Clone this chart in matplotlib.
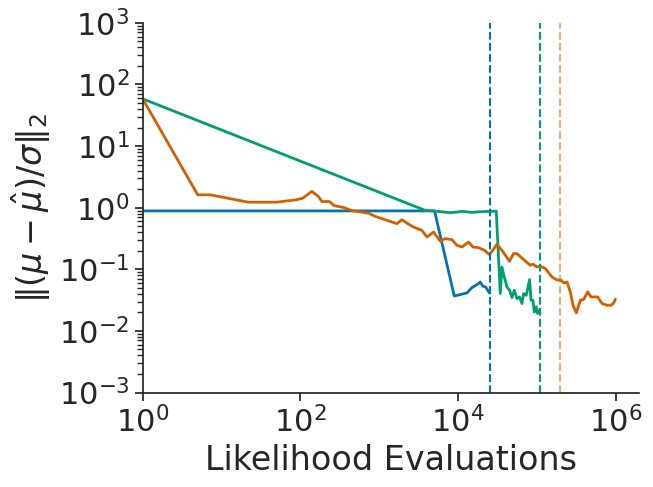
import matplotlib
matplotlib.use("Agg")
import matplotlib.pyplot as plt
import seaborn as sns

# blue run
blue_x = [1, 5046, 8980, 13000, 15060, 18270, 19190, 20760, 22400, 25180]
blue_y = [0.887, 0.887, 0.0369, 0.0413, 0.0505, 0.0586, 0.0622, 0.053, 0.0517, 0.0413]

# green run
green_x = [1, 3845, 4898, 7980, 11570, 15060, 19190, 30640, 34430, 36200, 38730,
           41900, 45200, 48500, 51880, 56100, 60550, 65000, 68100, 73650, 81100,
           84500, 89600, 93100, 98700, 102500, 108700]
green_y = [58.5, 0.904, 0.887, 0.830, 0.871, 0.839, 0.861, 0.881, 0.0404, 0.109, 0.075,
           0.0517, 0.0457, 0.0348, 0.0457, 0.0335, 0.0356, 0.0278, 0.0404, 0.0379, 0.068,
           0.0315, 0.0315, 0.0203, 0.0245, 0.0191, 0.0217]

# orange run
orange_x = [1, 4.99, 7.16, 21.9, 50.3, 90.3, 107.6, 140, 170, 187.5, 234, 269, 353, 451,
            732, 891, 1381, 1680, 1945, 2250, 2730, 3490, 4040, 4900, 5960, 6900, 8390,
            9710, 11240, 13640, 15500, 18270, 21780, 25180, 31260, 36200, 41900, 45000,
            50800, 56100, 68100, 82800, 89600, 100700, 112000, 128400, 156300, 177200,
            203200, 221000, 242200, 266700, 288600, 317800, 357200, 393500, 442300,
            488800, 592900, 674500, 780400, 877000, 946000, 994800]
orange_y = [58.5, 1.62, 1.62, 1.23, 1.23, 1.35, 1.43, 1.84, 1.52, 1.26, 1.26, 1.08, 1.01,
            0.894, 0.817, 0.723, 0.600, 0.551, 0.639, 0.563, 0.485, 0.429, 0.334, 0.403,
            0.288, 0.315, 0.303, 0.245, 0.230, 0.277, 0.230, 0.225, 0.203, 0.173, 0.254,
            0.203, 0.155, 0.135, 0.180, 0.180, 0.144, 0.116, 0.121, 0.109, 0.112, 0.103,
            0.075, 0.068, 0.0664, 0.060, 0.0623, 0.0429, 0.0261, 0.0196, 0.0315, 0.0323,
            0.0429, 0.0356, 0.0356, 0.0278, 0.0261, 0.0261, 0.0284, 0.0327]

# where each run stopped
stops = [25180, 110000, 199000]

sns.set_theme(style="ticks", font_scale=2)
c_blue, c_green, c_orange = "#0173b2", "#029e73", "#d55e00"

fig, ax = plt.subplots(figsize=(6.53, 4.87), dpi=100)
ax.plot(blue_x, blue_y, color=c_blue, lw=2)
ax.plot(green_x, green_y, color=c_green, lw=2)
ax.plot(orange_x, orange_y, color=c_orange, lw=2)

ax.axvline(stops[0], color=c_blue, ls="--", lw=1.5)
ax.axvline(stops[1], color=c_green, ls="--", lw=1.5)
ax.axvline(stops[2], color=c_orange, ls="--", lw=1.5, alpha=0.5)

ax.set_xscale("log")
ax.set_yscale("log")
ax.set_xlim(1, 2e6)
ax.set_ylim(1e-3, 1e3)
ax.set_xlabel("Likelihood Evaluations")
ax.set_ylabel(r"$\|(\mu - \hat{\mu})/\sigma\|_2$")
sns.despine(ax=ax)

fig.subplots_adjust(left=0.2185, right=0.979, top=0.953, bottom=0.194)
fig.savefig("out.png", dpi=100)
